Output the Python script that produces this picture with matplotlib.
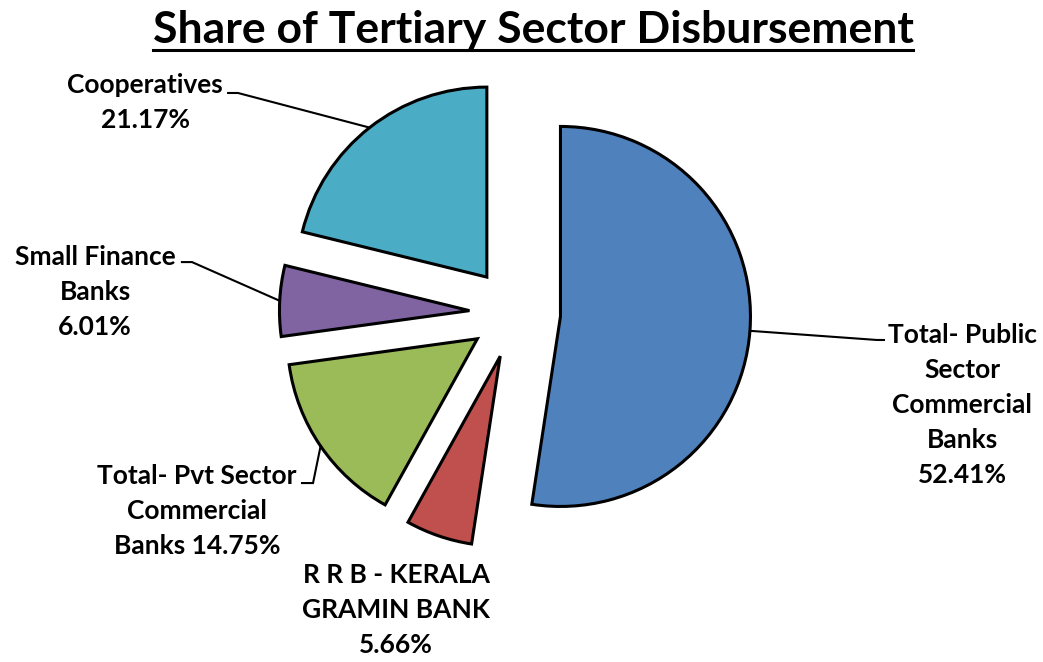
import matplotlib
matplotlib.use("Agg")
import matplotlib.pyplot as plt
import numpy as np

# share of tertiary sector disbursement by lender group (%)
labels = ["Total- Public\nSector\nCommercial\nBanks",
          "R R B - KERALA\nGRAMIN BANK",
          "Total- Pvt Sector\nCommercial\nBanks",
          "Small Finance\nBanks",
          "Cooperatives"]
shares = [52.41, 5.66, 14.75, 6.01, 21.17]
colors = ["#4F81BD", "#C0504D", "#9BBB59", "#8064A2", "#4BACC6"]

plt.rcParams['font.family'] = ['Lato', 'DejaVu Sans']

fig = plt.figure(figsize=(10.43, 6.62), dpi=100)
ax = fig.add_axes([0, 0, 1, 1])

wedges, _ = ax.pie(shares, colors=colors, startangle=90, counterclock=False,
                   explode=[0.24] * len(shares), radius=1,
                   wedgeprops=dict(edgecolor="black", linewidth=2.2))

ax.set_aspect("equal")
ax.set_xlim(-515 / 190, 528 / 190)
ax.set_ylim(-349 / 190, 313 / 190)
ax.axis("off")

# label text: centre of the text block, elbow of the leader line, end at the text
label_pos = [(2.353, -0.484), (-0.626, -1.563), (-1.674, -1.042), (-2.21, 0.11), (-1.947, 1.11)]
elbows = [(1.905, -0.142), None, (-1.063, -0.895), (-1.70, 0.268), (-1.458, 1.158)]
ends = [(1.942, -0.142), None, (-1.121, -0.895), (-1.753, 0.268), (-1.51, 1.158)]

for w, lab, val, pos, elb, end in zip(wedges, labels, shares, label_pos, elbows, ends):
    if "Pvt" in lab:
        text = lab + " %.2f%%" % val
    else:
        text = lab + "\n%.2f%%" % val
    ax.text(pos[0], pos[1], text, ha="center", va="center", fontsize=19,
            fontweight="bold", linespacing=1.55, color="black")
    if elb is None:
        continue
    mid = np.deg2rad((w.theta1 + w.theta2) / 2)
    cx, cy = w.center
    arc_pt = (cx + w.r * np.cos(mid), cy + w.r * np.sin(mid))
    ax.plot([arc_pt[0], elb[0], end[0]], [arc_pt[1], elb[1], end[1]],
            color="black", lw=1.5, solid_joinstyle="miter")

title = ax.text(0.095, 1.49, "Share of Tertiary Sector Disbursement", ha="center",
                va="center", fontsize=32, fontweight="bold")

# underline the title
fig.canvas.draw()
bb = title.get_window_extent().transformed(ax.transData.inverted())
ax.plot([bb.x0, bb.x1], [bb.y0 + 0.0, bb.y0 + 0.0], color="black", lw=2.2)

fig.savefig("out.png", dpi=100, facecolor="white")
